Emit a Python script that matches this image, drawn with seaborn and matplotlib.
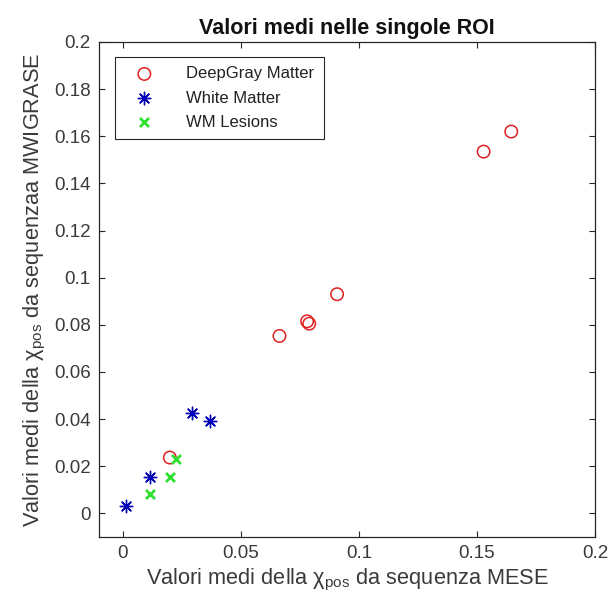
import numpy as np
import pandas as pd
import matplotlib
matplotlib.use("Agg")
import matplotlib.pyplot as plt
import seaborn as sns

# mean values per ROI (x: MESE, y: MWIGRASE)
dgm_x = [0.1645, 0.1528, 0.0908, 0.0781, 0.0790, 0.0664, 0.0200]
dgm_y = [0.1620, 0.1535, 0.0930, 0.0815, 0.0805, 0.0753, 0.0237]
wm_x = [0.0295, 0.0372, 0.0114, 0.0013]
wm_y = [0.0428, 0.0394, 0.0154, 0.0032]
les_x = [0.0224, 0.0199, 0.0118]
les_y = [0.0230, 0.0154, 0.0081]

x_ticks = [0, 0.05, 0.1, 0.15, 0.2]
y_ticks = [0, 0.02, 0.04, 0.06, 0.08, 0.1, 0.12, 0.14, 0.16, 0.18, 0.2]

sns.set_style("ticks")
plt.rcParams['font.family'] = ['Liberation Sans', 'DejaVu Sans']
plt.rcParams['mathtext.fontset'] = 'custom'
plt.rcParams['mathtext.rm'] = 'Liberation Sans'

fig = plt.figure(figsize=(6.11, 6.05), dpi=100)
ax = fig.add_axes([0.162, 0.1124, 0.812, 0.8182])

dgm = pd.DataFrame({'x': dgm_x, 'y': dgm_y})
wm = pd.DataFrame({'x': wm_x, 'y': wm_y})
les = pd.DataFrame({'x': les_x, 'y': les_y})

sns.scatterplot(data=dgm, x='x', y='y', marker='o', s=80, facecolors='none',
                edgecolor='#e02020', linewidth=1.1, label='DeepGray Matter', ax=ax)
sns.scatterplot(data=wm, x='x', y='y', marker=(8, 2, 0), s=80, color='#0000b8',
                edgecolor='#0000b8', linewidth=1.0, label='White Matter', ax=ax)
sns.scatterplot(data=les, x='x', y='y', marker='x', s=42, color='#30e030',
                linewidth=2.0, label='WM Lesions', ax=ax)

ax.set_xlim(-0.01, 0.2)
ax.set_ylim(-0.01, 0.2)
ax.set_xticks(x_ticks)
ax.set_xticklabels(['0', '0.05', '0.1', '0.15', '0.2'])
ax.set_yticks(y_ticks)
ax.set_yticklabels(['0', '0.02', '0.04', '0.06', '0.08', '0.1', '0.12', '0.14', '0.16', '0.18', '0.2'])
ax.tick_params(direction='in', top=True, right=True, length=4, width=0.8,
               colors='#262626', labelsize=13.5, labelcolor='#3a3a3a', pad=6)
for sp in ax.spines.values():
    sp.set_visible(True)
    sp.set_color('#262626')
    sp.set_linewidth(0.9)

ax.set_xlabel(r"Valori medi della χ$_{\mathrm{pos}}$ da sequenza MESE", fontsize=15.7,
              color='#3a3a3a', labelpad=3)
ax.set_ylabel(r"Valori medi della χ$_{\mathrm{pos}}$ da sequenzaa MWIGRASE", fontsize=15.7,
              color='#3a3a3a', labelpad=4)
ax.set_title("Valori medi nelle singole ROI", fontsize=15.5, fontweight='bold', color='#111111', pad=6)

leg = ax.legend(loc='upper left', bbox_to_anchor=(0.032, 0.97), fontsize=12,
                frameon=True, fancybox=False, edgecolor='#262626', framealpha=1,
                borderpad=0.57, labelspacing=0.55, handletextpad=1.3, handlelength=2.4,
                borderaxespad=0)
leg.get_frame().set_linewidth(0.8)
for t in leg.get_texts():
    t.set_color('#222222')

fig.savefig("out.png", dpi=100)
